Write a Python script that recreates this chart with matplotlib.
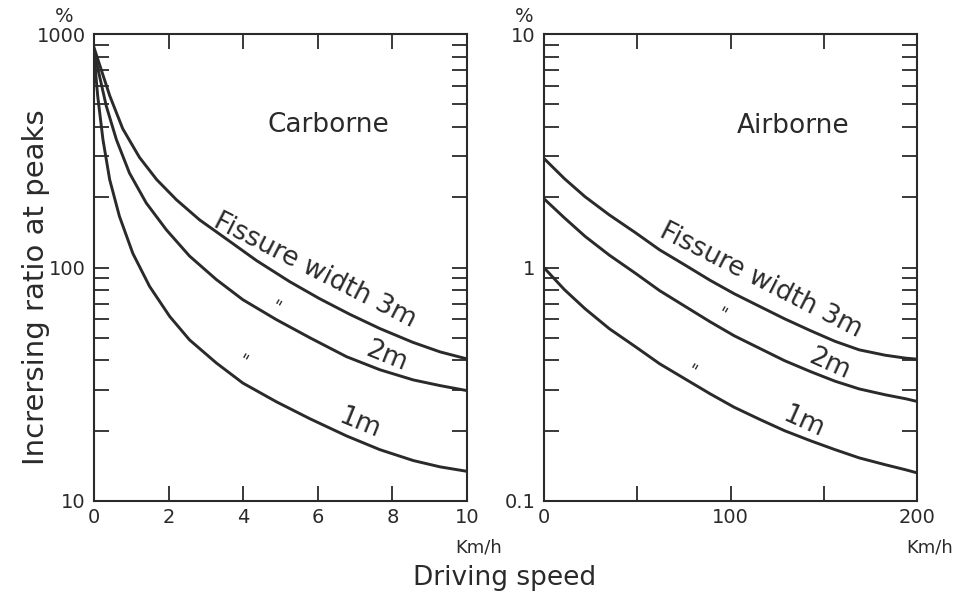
import numpy as np
import matplotlib.pyplot as plt
from matplotlib.ticker import LogLocator, NullFormatter

# Carborne panel: driving speed (km/h) vs increasing ratio at peaks (%)
car_speed_3m = [0, 0.42, 0.77, 1.22, 1.68, 2.21, 2.83, 3.45, 4.36, 5.25,
                6.05, 6.86, 7.66, 8.55, 9.28, 10]
car_ratio_3m = [875, 545, 393, 296, 238, 195, 160, 136, 107, 86.9,
                73.5, 63, 54.8, 47.8, 43.5, 40.6]
car_speed_2m = [0, 0.33, 0.60, 0.95, 1.40, 1.94, 2.56, 3.28, 3.99, 4.89,
                5.79, 6.77, 7.66, 8.56, 9.28, 10]
car_ratio_2m = [841, 491, 353, 254, 189, 145, 112, 88.8, 72.8, 59.8,
                50, 41.5, 36.5, 33, 31.2, 29.7]
car_speed_1m = [0, 0.10, 0.24, 0.42, 0.68, 1.04, 1.49, 2.03, 2.56, 3.28,
                3.99, 4.89, 5.79, 6.77, 7.66, 8.56, 9.28, 10]
car_ratio_1m = [817, 541, 353, 238, 166, 115, 83, 61.7, 49, 39,
                32, 26.6, 22.5, 19.0, 16.6, 14.9, 14.0, 13.4]

# Airborne panel
air_speed = [0, 11, 22, 35, 49, 62, 76, 89, 102, 116, 129, 143, 156, 169,
             183, 194, 200]
air_ratio_3m = [2.93, 2.40, 2.01, 1.68, 1.41, 1.19, 1.02, 0.882, 0.772, 0.679,
                0.603, 0.536, 0.483, 0.444, 0.421, 0.409, 0.405]
air_ratio_2m = [1.97, 1.63, 1.36, 1.13, 0.945, 0.796, 0.679, 0.586, 0.510,
                0.449, 0.399, 0.358, 0.326, 0.302, 0.285, 0.274, 0.267]
air_ratio_1m = [0.998, 0.803, 0.666, 0.547, 0.458, 0.387, 0.332, 0.288, 0.252,
                0.223, 0.200, 0.181, 0.166, 0.153, 0.143, 0.136, 0.132]

car_xticks = [0, 2, 4, 6, 8, 10]
car_xlabels = ['0', '2', '4', '6', '8', '10']
car_yticks = [10, 100, 1000]
car_ylabels = ['10', '100', '1000']
air_xticks = [0, 50, 100, 150, 200]
air_xlabels = ['0', '', '100', '', '200']
air_yticks = [0.1, 1, 10]
air_ylabels = ['0.1', '1', '10']

INK = '#2a2a2a'
plt.rcParams['font.family'] = 'DejaVu Sans'
plt.rcParams['text.color'] = INK

W, H = 960, 597
fig = plt.figure(figsize=(W / 100, H / 100), dpi=100)
fig.patch.set_facecolor('white')


def px(x, y):
    return x / W, 1 - y / H


def style(ax, xlim, ylim, xt, xl, yt, yl):
    ax.set_yscale('log')
    ax.set_xlim(*xlim)
    ax.set_ylim(*ylim)
    ax.set_xticks(xt, xl)
    ax.set_yticks(yt, yl)
    ax.yaxis.set_minor_locator(LogLocator(base=10, subs=np.arange(2, 10)))
    ax.yaxis.set_minor_formatter(NullFormatter())
    ax.tick_params(which='both', direction='in', top=True, right=True,
                   length=11, width=1.3, color=INK, labelcolor=INK,
                   labelsize=14)
    ax.tick_params(axis='y', pad=6)
    ax.tick_params(axis='x', pad=5)
    for s in ax.spines.values():
        s.set_linewidth(1.5)
        s.set_color(INK)


lw = 2.1
ax1 = fig.add_axes([94 / W, 1 - 501 / H, 373 / W, 467 / H])
ax1.plot(car_speed_3m, car_ratio_3m, color=INK, lw=lw)
ax1.plot(car_speed_2m, car_ratio_2m, color=INK, lw=lw)
ax1.plot(car_speed_1m, car_ratio_1m, color=INK, lw=lw)
style(ax1, (0, 10), (10, 1000), car_xticks, car_xlabels, car_yticks, car_ylabels)

ax2 = fig.add_axes([544 / W, 1 - 501 / H, 373 / W, 467 / H])
ax2.plot(air_speed, air_ratio_3m, color=INK, lw=lw)
ax2.plot(air_speed, air_ratio_2m, color=INK, lw=lw)
ax2.plot(air_speed, air_ratio_1m, color=INK, lw=lw)
style(ax2, (0, 200), (0.1, 10), air_xticks, air_xlabels, air_yticks, air_ylabels)

# panel titles and curve labels
fig.text(*px(328, 125), 'Carborne', fontsize=19, ha='center', va='center')
fig.text(*px(793, 126), 'Airborne', fontsize=19, ha='center', va='center')

for (x, y, s, r) in [(315, 271, 'Fissure width 3m', -27), (386, 356, '2m', -22),
                     (359, 423, '1m', -22), (761, 281, 'Fissure width 3m', -27),
                     (829, 364, '2m', -24), (803, 422, '1m', -24)]:
    fig.text(*px(x, y), s, fontsize=19, ha='center', va='center', rotation=r,
             rotation_mode='anchor')

for (x, y) in [(275, 308), (242, 362), (721, 315), (691, 372)]:
    fig.text(*px(x, y), '"', fontsize=12, ha='center', va='center', rotation=-30)

# units and axis titles
fig.text(*px(64, 17), '%', fontsize=14, ha='center', va='center')
fig.text(*px(524, 17), '%', fontsize=14, ha='center', va='center')
fig.text(*px(479, 547), 'Km/h', fontsize=13, ha='center', va='center')
fig.text(*px(930, 547), 'Km/h', fontsize=13, ha='center', va='center')
fig.text(*px(505, 578), 'Driving speed', fontsize=19, ha='center', va='center')
fig.text(*px(36, 287), 'Incrersing ratio at peaks', fontsize=21, ha='center',
         va='center', rotation=90)

fig.savefig('out.png', dpi=100)
